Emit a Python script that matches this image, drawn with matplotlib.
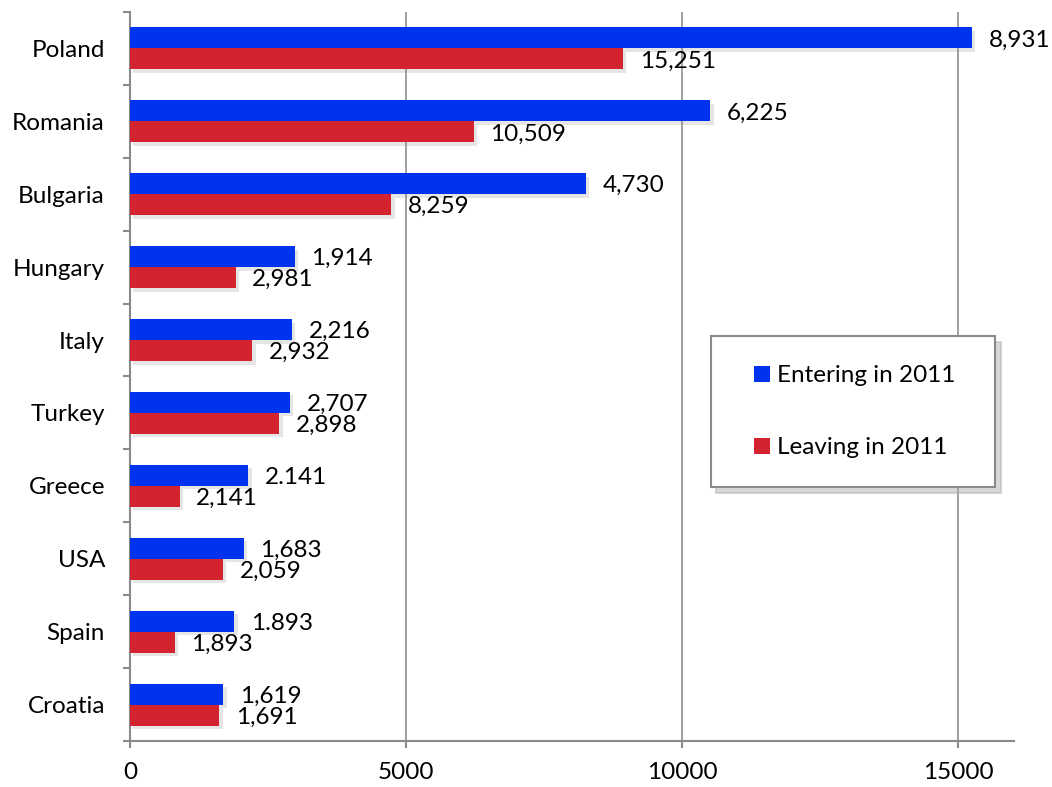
import matplotlib
matplotlib.use("Agg")
import matplotlib.pyplot as plt
import matplotlib.patheffects as pe
from matplotlib.lines import Line2D
import numpy as np

plt.rcParams['font.family'] = ['Lato', 'DejaVu Sans']

countries = ["Poland", "Romania", "Bulgaria", "Hungary", "Italy", "Turkey",
             "Greece", "USA", "Spain", "Croatia"]
entering = [15251, 10509, 8259, 2981, 2932, 2898, 2141, 2059, 1893, 1691]
leaving = [8931, 6225, 4730, 1914, 2216, 2707, 900, 1683, 810, 1619]
entering_labels = ["8,931", "6,225", "4,730", "1,914", "2,216", "2,707",
                   "2.141", "1,683", "1.893", "1,619"]
leaving_labels = ["15,251", "10,509", "8,259", "2,981", "2,932", "2,898",
                  "2,141", "2,059", "1,893", "1,691"]
xticks = [0, 5000, 10000, 15000]

BLUE = "#0033ee"
RED = "#d2232e"
AXC = "#8a8a8a"
FS = 17.5

fig = plt.figure(figsize=(10.52, 7.87), dpi=100)
ax = fig.add_axes([130 / 1052, 46 / 787, 884 / 1052, 729 / 787])

y = np.arange(len(countries))
h = 0.288
shadow = [pe.SimplePatchShadow(offset=(2.5, -2.5), shadow_rgbFace="0.55", alpha=0.22), pe.Normal()]
b1 = ax.barh(y - h / 2, entering, height=h, color=BLUE, label="Entering in 2011",
             zorder=3, path_effects=shadow)
b2 = ax.barh(y + h / 2, leaving, height=h, color=RED, label="Leaving in 2011",
             zorder=3, path_effects=shadow)

for yi, v, t in zip(y, entering, entering_labels):
    ax.annotate(t, (v, yi - h / 2), xytext=(12, -1.5), textcoords="offset points",
                ha="left", va="center", fontsize=FS, color="black", zorder=5)
for yi, v, t in zip(y, leaving, leaving_labels):
    ax.annotate(t, (v, yi + h / 2), xytext=(12, -1.5), textcoords="offset points",
                ha="left", va="center", fontsize=FS, color="black", zorder=5)

ax.set_xlim(0, 16014)
ax.set_ylim(len(countries) - 0.5, -0.5)
ax.set_xticks(xticks)
ax.set_xticklabels([str(t) for t in xticks], fontsize=FS)
ax.set_yticks(y)
ax.set_yticklabels(countries, fontsize=FS)
ax.set_yticks(np.arange(-0.5, len(countries)), minor=True)
ax.tick_params(axis="y", which="major", length=0, pad=18)
ax.tick_params(axis="y", which="minor", length=5, width=1.5, color=AXC, direction="out")
ax.tick_params(axis="x", length=5, width=1.5, color=AXC, pad=10)

for s in ["top", "right"]:
    ax.spines[s].set_visible(False)
for s in ["left", "bottom"]:
    ax.spines[s].set_color(AXC)
    ax.spines[s].set_linewidth(1.5)

ax.xaxis.grid(True, color="#909090", linewidth=1.2, zorder=0)
ax.set_axisbelow(True)

handles = [Line2D([], [], linestyle="none", marker="s", markersize=11,
                  markerfacecolor=b.patches[0].get_facecolor(), markeredgewidth=0,
                  label=b.get_label()) for b in (b1, b2)]
leg = ax.legend(handles=handles, loc="upper left",
                bbox_to_anchor=(0.657, 0.351, 0.3215, 0.2046), mode="expand",
                fontsize=FS, frameon=True, fancybox=False, borderpad=1.2,
                labelspacing=2.1, handlelength=1.85,
                handletextpad=-0.33, borderaxespad=0,
                shadow={"ox": 4, "oy": -4, "color": "0.7", "alpha": 0.5})
leg.get_frame().set_edgecolor("#8a8a8a")
leg.get_frame().set_linewidth(1.5)
leg.set_zorder(10)
leg.get_frame().set_facecolor("white")

fig.savefig("out.png", dpi=100)
